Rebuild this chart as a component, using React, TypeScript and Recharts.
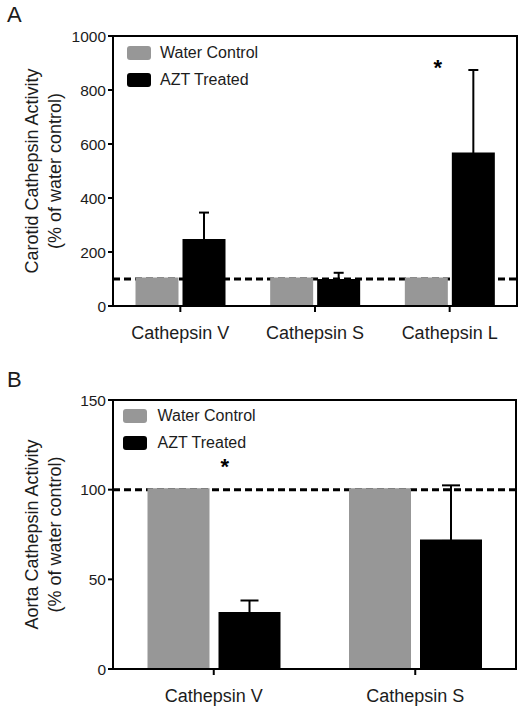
import React from 'react';
import {
  BarChart,
  Bar,
  XAxis,
  YAxis,
  ErrorBar,
  ReferenceLine,
  ReferenceArea,
  ReferenceDot,
  Legend,
} from 'recharts';

const FONT = '"Liberation Sans", Arial, Helvetica, sans-serif';
const GRAY = '#979797';
const INK = '#1c1c1c';

// Panel A - carotid
const carotidCategories = ['Cathepsin V', 'Cathepsin S', 'Cathepsin L'];
const carotidWater = [100, 100, 100];
const carotidAzt = [243, 94, 563];
const carotidAztErr = [103, 29, 311];
const carotidTicks = [0, 200, 400, 600, 800, 1000];

// Panel B - aorta
const aortaCategories = ['Cathepsin V', 'Cathepsin S'];
const aortaWater = [100, 100];
const aortaAzt = [30.9, 71.4];
const aortaAztErr = [7.3, 31.0];
const aortaTicks = [0, 50, 100, 150];

const legendItems = [
  { name: 'Water Control', color: GRAY },
  { name: 'AZT Treated', color: '#000' },
];

const buildRows = (cats: string[], water: number[], azt: number[], err: number[]) =>
  cats.map((name, i) => ({ name, water: water[i], azt: azt[i], aztErr: [0, err[i]] }));

const carotidRows = buildRows(carotidCategories, carotidWater, carotidAzt, carotidAztErr);
const aortaRows = buildRows(aortaCategories, aortaWater, aortaAzt, aortaAztErr);

const yLabel = (lines: string[]) => (props: any) => {
  const vb = props.viewBox || { x: 0, y: 0, width: 0, height: 0 };
  const cy = vb.y + vb.height / 2;
  const xs = [vb.x + 32, vb.x + 55];
  return (
    <g>
      {lines.map((line, i) => (
        <text
          key={line}
          x={xs[i]}
          y={cy}
          transform={`rotate(-90, ${xs[i]}, ${cy})`}
          textAnchor="middle"
          dominantBaseline="central"
          fontSize={18}
          fontFamily={FONT}
          fill={INK}
        >
          {line}
        </text>
      ))}
    </g>
  );
};

const renderLegend = (gap: number) => () => (
  <div style={{ fontFamily: FONT, fontSize: 16, color: INK }}>
    {legendItems.map((item) => (
      <div key={item.name} style={{ display: 'flex', alignItems: 'center', height: 26.5 }}>
        <span
          style={{
            display: 'inline-block',
            width: 24,
            height: 14,
            background: item.color,
            borderRadius: 3,
            marginRight: gap,
          }}
        />
        <span>{item.name}</span>
      </div>
    ))}
  </div>
);

interface PanelProps {
  letter: string;
  rows: any[];
  ticks: number[];
  max: number;
  height: number;
  top: number;
  right: number;
  xAxisHeight: number;
  barSize: number;
  barGap: number;
  capWidth: number;
  legendLeft: number;
  legendTop: number;
  legendGap: number;
  labelLines: string[];
  star: { x: string; y: number; dx: number };
}

// bars carry a 3px outline in their own colour (GraphPad style), so barSize is the inner width
const Panel: React.FC<PanelProps> = (p) => (
  <div style={{ position: 'relative', width: 526, height: p.height }}>
    <div
      style={{
        position: 'absolute',
        left: 7,
        top: p.letter === 'A' ? 4 : 9,
        fontFamily: FONT,
        fontSize: 22,
        lineHeight: 1,
        color: INK,
      }}
    >
      {p.letter}
    </div>
    <BarChart
      width={526}
      height={p.height}
      data={p.rows}
      margin={{ top: p.top, right: p.right, bottom: 0, left: 0 }}
      barSize={p.barSize}
      barGap={p.barGap}
    >
      {/* dashed 100% line sits behind the bars */}
      <ReferenceLine
        y={100}
        stroke="#000"
        strokeWidth={3}
        strokeDasharray="7 4"
        zIndex={-10}
      />
      <XAxis
        dataKey="name"
        interval={0}
        height={p.xAxisHeight}
        tickSize={6}
        tickMargin={14}
        axisLine={{ stroke: '#000', strokeWidth: 2 }}
        tickLine={{ stroke: '#000', strokeWidth: 2 }}
        tick={{ fontSize: 18, fontFamily: FONT, fill: INK }}
      />
      <YAxis
        width={113}
        domain={[0, p.max]}
        ticks={p.ticks}
        allowDataOverflow
        tickSize={5}
        tickMargin={2}
        axisLine={{ stroke: '#000', strokeWidth: 2 }}
        tickLine={{ stroke: '#000', strokeWidth: 2 }}
        tick={{ fontSize: 15.5, fontFamily: FONT, fill: INK }}
        label={yLabel(p.labelLines)}
      />
      <Bar
        dataKey="water"
        name="Water Control"
        fill={GRAY}
        stroke={GRAY}
        strokeWidth={3}
        isAnimationActive={false}
      />
      <Bar
        dataKey="azt"
        name="AZT Treated"
        fill="#000"
        stroke="#000"
        strokeWidth={3}
        isAnimationActive={false}
      >
        <ErrorBar dataKey="aztErr" width={p.capWidth} stroke="#000" strokeWidth={2} />
      </Bar>
      <ReferenceArea y1={0} y2={p.max} fill="none" stroke="#000" strokeWidth={2} />
      <ReferenceDot
        x={p.star.x}
        y={p.star.y}
        r={0}
        fill="none"
        stroke="none"
        label={{
          value: '*',
          position: 'center',
          dx: p.star.dx,
          fontSize: 22,
          fontWeight: 'bold',
          fontFamily: FONT,
          fill: '#000',
        }}
      />
      <Legend
        layout="vertical"
        align="center"
        verticalAlign="middle"
        content={renderLegend(p.legendGap)}
        wrapperStyle={{ left: p.legendLeft, top: p.legendTop, width: 260, height: 53 }}
      />
    </BarChart>
  </div>
);

export default function App() {
  return (
    <div style={{ position: 'absolute', left: 0, top: 0, width: 526, height: 712, background: '#fff' }}>
      <Panel
        letter="A"
        rows={carotidRows}
        ticks={carotidTicks}
        max={1000}
        height={360}
        top={36}
        right={9}
        xAxisHeight={54}
        barSize={40}
        barGap={7}
        capWidth={5}
        legendLeft={127}
        legendTop={40}
        legendGap={9}
        labelLines={['Carotid Cathepsin Activity', '(% of water control)']}
        star={{ x: 'Cathepsin L', y: 884, dx: -12 }}
      />
      <Panel
        letter="B"
        rows={aortaRows}
        ticks={aortaTicks}
        max={150}
        height={352}
        top={40}
        right={10}
        xAxisHeight={43}
        barSize={59}
        barGap={12}
        capWidth={9}
        legendLeft={123}
        legendTop={43}
        legendGap={10.5}
        labelLines={['Aorta Cathepsin Activity', '(% of water control)']}
        star={{ x: 'Cathepsin V', y: 113, dx: 11 }}
      />
    </div>
  );
}
